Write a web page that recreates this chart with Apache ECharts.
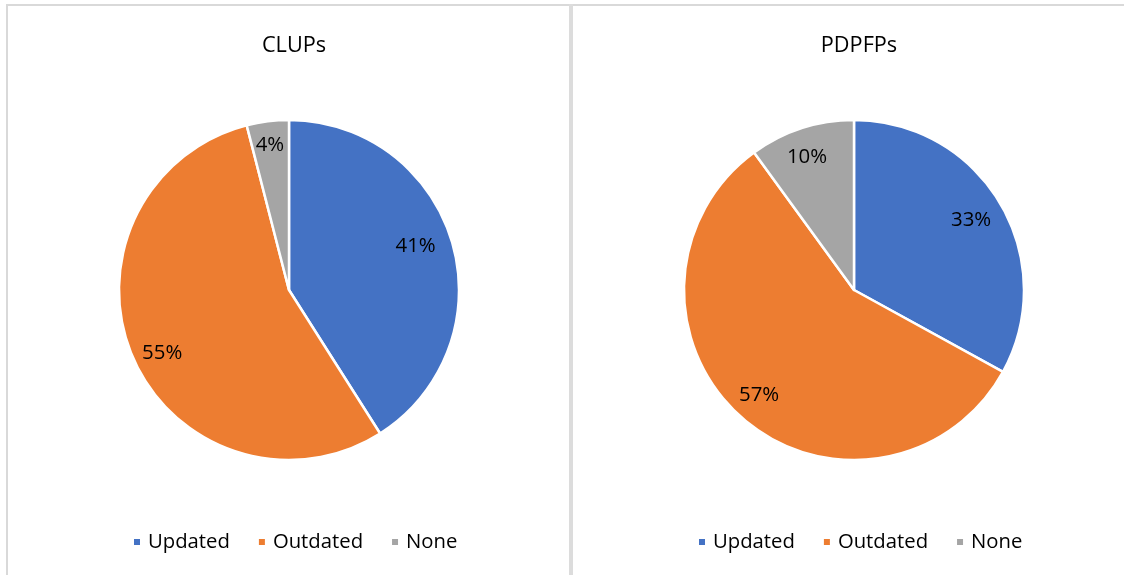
<!DOCTYPE html>
<html><head><meta charset="utf-8">
<script src="https://cdn.jsdelivr.net/npm/echarts@6/dist/echarts.min.js"></script>
<style>html,body{margin:0;padding:0;background:#fff}#c{width:1124px;height:575px}</style>
</head><body><div id="c"></div>
<script>
const categories = ['Updated', 'Outdated', 'None'];
const titles = ['CLUPs', 'PDPFPs'];
const clupsValues = [41, 55, 4];
const pdpfpsValues = [33, 57, 10];
const colors = ['#4472C4', '#ED7D31', '#A5A5A5'];

const FONT = '"Open Sans", sans-serif';
const centers = [[289, 290], [854, 290]];
const labelOffsets = [[[-4, -6], [-2, 9], [-2, -10]], [[0, -1], [-5, 3], [-5, -3]]];
const allValues = [clupsValues, pdpfpsValues];

const series = [];
allValues.forEach((vals, i) => {
  series.push({
    type: 'pie', center: centers[i], radius: [0, 170], startAngle: 90, clockwise: true,
    silent: true, animation: false,
    itemStyle: {borderColor: '#fff', borderWidth: 2.5},
    label: {show: false}, labelLine: {show: false},
    emphasis: {disabled: true},
    data: categories.map((c, k) => ({name: c, value: vals[k], itemStyle: {color: colors[k]}}))
  });
  series.push({
    type: 'pie', center: centers[i], radius: [96, 170], startAngle: 90, clockwise: true,
    silent: true, animation: false, legendHoverLink: false,
    itemStyle: {color: 'rgba(0,0,0,0)', borderWidth: 0},
    labelLine: {show: false}, emphasis: {disabled: true},
    label: {show: true, position: 'inside', formatter: p => p.value + '%', color: '#000', fontFamily: FONT, fontSize: 20.4},
    data: categories.map((c, k) => ({name: c, value: vals[k],
      itemStyle: {color: 'rgba(0,0,0,0)'},
      label: {offset: labelOffsets[i][k]}}))
  });
});

const chart = echarts.init(document.getElementById('c'));
chart.setOption({
  animation: false,
  color: colors,
  title: titles.map((t, i) => ({text: t, left: centers[i][0], top: 30, textAlign: 'center',
    textStyle: {fontFamily: FONT, fontSize: 21.7, fontWeight: 'normal', color: '#000'}})),
  legend: [132, 697].map(x => ({
    data: categories, left: x, top: 532, padding: 0, icon: 'rect', itemWidth: 8, itemHeight: 8, itemGap: 27,
    selectedMode: false,
    textStyle: {fontFamily: FONT, fontSize: 20.3, color: '#000', padding: [0, 0, 0, 2]}
  })),
  graphic: [
    {type: 'rect', shape: {x: 6, y: 4, width: 1118, height: 2}, style: {fill: '#d9d9d9'}, silent: true},
    {type: 'rect', shape: {x: 6, y: 4, width: 2, height: 571}, style: {fill: '#d9d9d9'}, silent: true},
    {type: 'rect', shape: {x: 569, y: 4, width: 4, height: 571}, style: {fill: '#dcdcdc'}, silent: true}
  ],
  series: series
});
</script></body></html>
